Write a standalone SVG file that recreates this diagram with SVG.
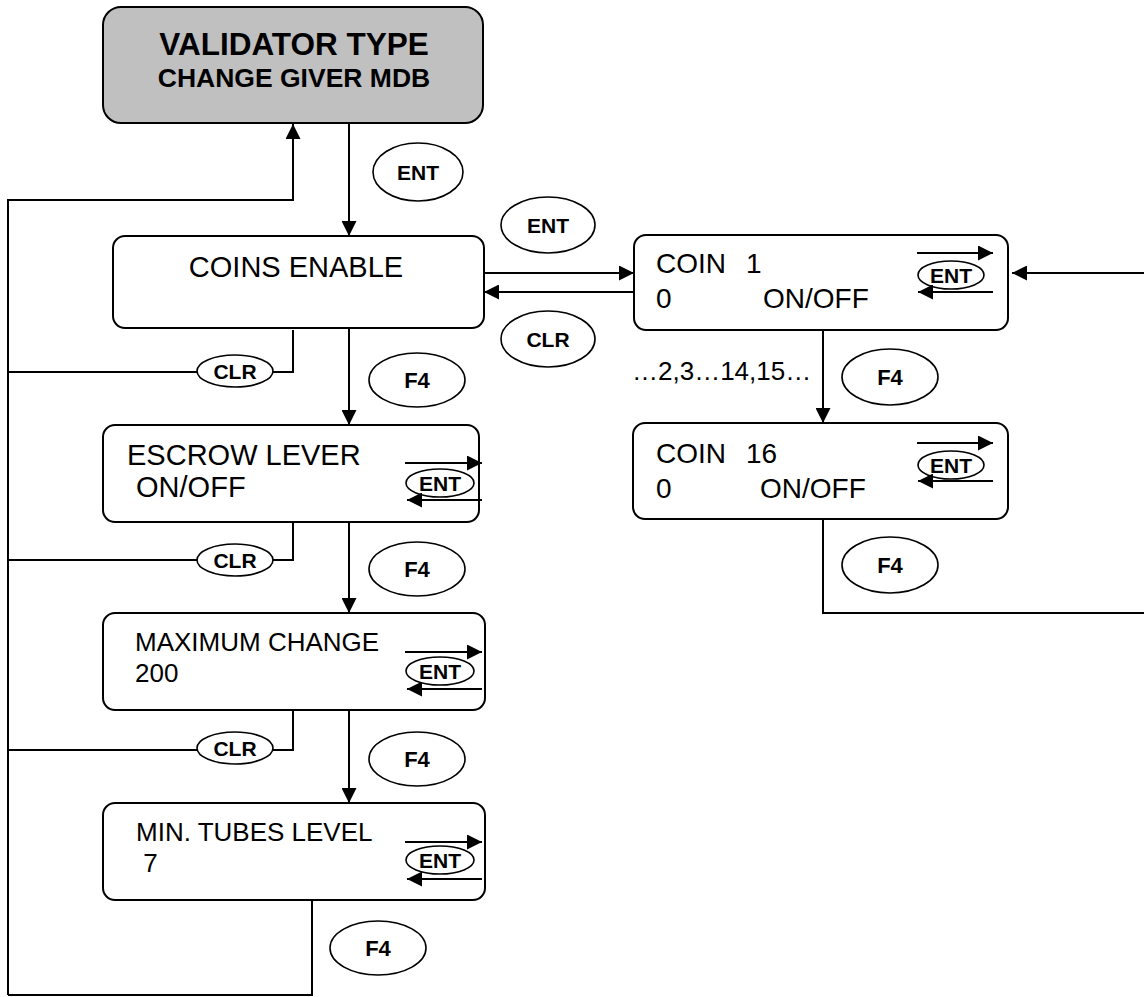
<svg xmlns="http://www.w3.org/2000/svg" width="1144" height="997" viewBox="0 0 1144 997">
<style>
.box{fill:#fff;stroke:#000;stroke-width:2}
.title{fill:#c0c0c0;stroke:#000;stroke-width:2}
.ln{fill:none;stroke:#000;stroke-width:2}
.ar{fill:none;stroke:#000;stroke-width:2;marker-end:url(#ah)}
.ov{fill:#fff;stroke:#000;stroke-width:1.6}
.t{font-family:"Liberation Sans",Arial,sans-serif;font-size:26px;fill:#000}
.t29{font-size:29px}
.t28{font-size:28px}
.b{font-family:"Liberation Sans",Arial,sans-serif;font-weight:bold;font-size:21px;fill:#000;text-anchor:middle}
.f4{font-size:22px}
</style>
<defs>
<marker id="ah" markerUnits="userSpaceOnUse" markerWidth="16" markerHeight="15" refX="15" refY="7.5" orient="auto">
<path d="M0,0 L15,7.5 L0,15 z" fill="#000"/>
</marker>
</defs>
<g id="connectors">
<line class="ar" x1="349" y1="123" x2="349" y2="236"/>
<polyline class="ar" points="8,995 8,200 293,200 293,124"/>
<line class="ar" x1="484" y1="273" x2="634" y2="273"/>
<line class="ar" x1="634" y1="292" x2="484" y2="292"/>
<line class="ar" x1="823" y1="330" x2="823" y2="423"/>
<polyline class="ln" points="823,519 823,613 1144,613"/>
<line class="ar" x1="1144" y1="273" x2="1012" y2="273"/>
<polyline class="ln" points="293,330 293,372 8,372"/>
<polyline class="ln" points="293,522 293,560 8,560"/>
<polyline class="ln" points="293,710 293,750 8,750"/>
<line class="ar" x1="349" y1="328" x2="349" y2="425"/>
<line class="ar" x1="349" y1="522" x2="349" y2="613"/>
<line class="ar" x1="349" y1="710" x2="349" y2="803"/>
<polyline class="ln" points="312,900 312,995 8,995"/>
</g>
<g id="labels">
<ellipse class="ov" cx="418" cy="172" rx="45" ry="29"/><text class="b" x="418" y="180">ENT</text>
<ellipse class="ov" cx="548" cy="225" rx="47" ry="28"/><text class="b" x="548" y="233">ENT</text>
<ellipse class="ov" cx="548" cy="339" rx="47" ry="28"/><text class="b" x="548" y="347">CLR</text>
<ellipse class="ov" cx="235" cy="371" rx="38" ry="16"/><text class="b" x="235" y="379">CLR</text>
<ellipse class="ov" cx="235" cy="560" rx="38" ry="16"/><text class="b" x="235" y="568">CLR</text>
<ellipse class="ov" cx="235" cy="748" rx="38" ry="16"/><text class="b" x="235" y="756">CLR</text>
<ellipse class="ov" cx="417" cy="380" rx="48" ry="27"/><text class="b f4" x="417" y="388">F4</text>
<ellipse class="ov" cx="417" cy="569" rx="48" ry="27"/><text class="b f4" x="417" y="577">F4</text>
<ellipse class="ov" cx="417" cy="759" rx="48" ry="27"/><text class="b f4" x="417" y="767">F4</text>
<ellipse class="ov" cx="378" cy="948" rx="48" ry="27"/><text class="b f4" x="378" y="956">F4</text>
<ellipse class="ov" cx="890" cy="377" rx="48" ry="28"/><text class="b f4" x="890" y="385">F4</text>
<ellipse class="ov" cx="890" cy="565" rx="48" ry="28"/><text class="b f4" x="890" y="573">F4</text>
<text class="t" x="632" y="380">…2,3…14,15…</text>
</g>
<g id="validator-type">
<rect class="title" x="103" y="7" width="380" height="116" rx="18"/>
<text x="294" y="55" text-anchor="middle" style="font-family:'Liberation Sans',Arial,sans-serif;font-weight:bold;font-size:31.5px">VALIDATOR TYPE</text>
<text x="294" y="87" text-anchor="middle" style="font-family:'Liberation Sans',Arial,sans-serif;font-weight:bold;font-size:26.5px">CHANGE GIVER MDB</text>
</g>
<g id="coins-enable">
<rect class="box" x="113" y="236" width="371" height="92" rx="12"/>
<text class="t t29" x="296" y="277" text-anchor="middle">COINS ENABLE</text>
</g>
<g id="escrow-lever">
<rect class="box" x="103" y="425" width="376" height="97" rx="12"/>
<text class="t t29" x="127" y="465">ESCROW LEVER</text>
<text class="t t29" x="128" y="497" xml:space="preserve"> ON/OFF</text>
<ellipse class="ov" cx="440" cy="483" rx="34" ry="14"/><text class="b" x="440" y="491">ENT</text>
<line class="ar" x1="405" y1="463" x2="482" y2="463"/>
<line class="ar" x1="482" y1="500" x2="407" y2="500"/>
</g>
<g id="maximum-change">
<rect class="box" x="103" y="613" width="382" height="97" rx="12"/>
<text class="t" x="135" y="651">MAXIMUM CHANGE</text>
<text class="t" x="135" y="682">200</text>
<ellipse class="ov" cx="440" cy="671" rx="34" ry="14"/><text class="b" x="440" y="679">ENT</text>
<line class="ar" x1="405" y1="652" x2="482" y2="652"/>
<line class="ar" x1="482" y1="689" x2="407" y2="689"/>
</g>
<g id="min-tubes-level">
<rect class="box" x="103" y="803" width="382" height="97" rx="12"/>
<text class="t" x="136" y="841">MIN. TUBES LEVEL</text>
<text class="t" x="136" y="872" xml:space="preserve"> 7</text>
<ellipse class="ov" cx="440" cy="860" rx="34" ry="14"/><text class="b" x="440" y="868">ENT</text>
<line class="ar" x1="405" y1="842" x2="482" y2="842"/>
<line class="ar" x1="482" y1="879" x2="407" y2="879"/>
</g>
<g id="coin-1">
<rect class="box" x="634" y="235" width="374" height="95" rx="12"/>
<text class="t t28" x="656" y="273">COIN<tspan x="746">1</tspan></text>
<text class="t t28" x="656" y="308">0<tspan x="763">ON/OFF</tspan></text>
<ellipse class="ov" cx="951" cy="275" rx="33" ry="14"/><text class="b" x="951" y="283">ENT</text>
<line class="ar" x1="917" y1="253" x2="993" y2="253"/>
<line class="ar" x1="993" y1="292" x2="918" y2="292"/>
</g>
<g id="coin-16">
<rect class="box" x="633" y="423" width="375" height="96" rx="12"/>
<text class="t t28" x="656" y="463">COIN<tspan x="746">16</tspan></text>
<text class="t t28" x="656" y="498">0<tspan x="760">ON/OFF</tspan></text>
<ellipse class="ov" cx="951" cy="465" rx="33" ry="14"/><text class="b" x="951" y="473">ENT</text>
<line class="ar" x1="917" y1="443" x2="993" y2="443"/>
<line class="ar" x1="993" y1="481" x2="918" y2="481"/>
</g>
</svg>
